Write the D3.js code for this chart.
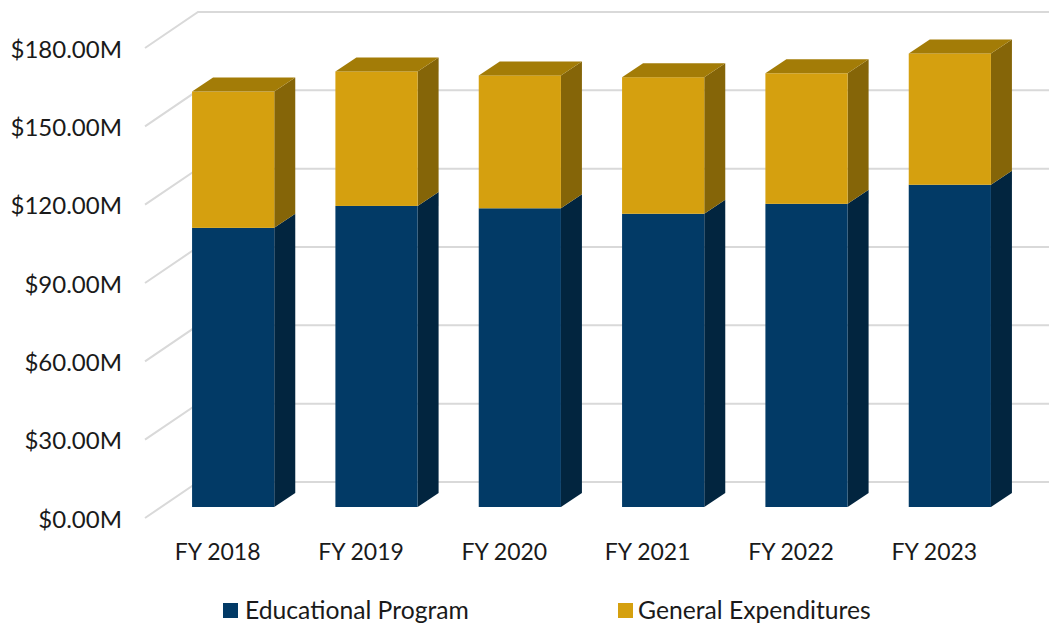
<!DOCTYPE html>
<html><head><meta charset="utf-8">
<script src="https://cdn.jsdelivr.net/npm/d3@7"></script>
<style>html,body{margin:0;background:#fff;overflow:hidden}svg{display:block}
text{font-family:Lato,"Open Sans",sans-serif;fill:#1a1a1a}</style></head><body>
<svg id="c" width="1049" height="624"></svg>
<script>
const categories=["FY 2018","FY 2019","FY 2020","FY 2021","FY 2022","FY 2023"];
const educational=[106.9,115.3,114.4,112.3,116.1,123.4];
const general=[52.2,51.5,50.9,52.3,50.0,50.3];
const yTicks=[0,30,60,90,120,150,180];
const seriesNames=["Educational Program","General Expenditures"];

const svg=d3.select("#c");
const x=d3.scaleBand().domain(categories).range([161.5,1021.5]).paddingInner(0.4266).paddingOuter(0.2133);
const yFront=d3.scaleLinear().domain([0,180]).range([518,48]);
const yBack=d3.scaleLinear().domain([0,180]).range([482,12]);
const yBar=d3.scaleLinear().domain([0,180]).range([507,37]);
const grid=svg.append("g").attr("fill","none").attr("stroke","#d9d9d9").attr("stroke-width",2);
const wallL=198, wallR=1049, floorL=145;
yTicks.forEach(t=>{
  grid.append("path").attr("d",d3.line()([[floorL,yFront(t)],[wallL,yBack(t)],[wallR,yBack(t)]]));
});
// axes
const yAxis=d3.axisLeft(yFront).tickValues(yTicks).tickSize(0).tickPadding(0).tickFormat(d=>"$"+d.toFixed(2)+"M");
const gy=svg.append("g").attr("transform","translate(122,1.5)").call(yAxis);
gy.select(".domain").remove();
gy.selectAll("text").attr("font-size",24).style("font-family","Lato,sans-serif").attr("fill","#1a1a1a");
const xAxis=d3.axisBottom(x).tickSize(0).tickPadding(0);
const gx=svg.append("g").attr("transform","translate(-15.5,544)").call(xAxis);
gx.select(".domain").remove();
gx.selectAll("text").attr("font-size",23).style("font-family","Lato,sans-serif").attr("fill","#1a1a1a");

const dx=21, dy=-14;
const colors=[{front:"#023a66",side:"#02253f",top:"#02304f"},{front:"#d5a00f",side:"#856508",top:"#a37c07"}];
const stacked=categories.map((c,i)=>({c,segs:[[0,educational[i]],[educational[i],educational[i]+general[i]]]}));
const bars=svg.append("g").selectAll("g").data(stacked).join("g");
const poly=d3.line();
bars.each(function(d){
  const g=d3.select(this), x0=x(d.c), x1=x0+x.bandwidth();
  d.segs.forEach((s,k)=>{
    const yb=yBar(s[0]), yt=yBar(s[1]), col=colors[k];
    g.append("path").attr("fill",col.side).attr("d",poly([[x1,yb],[x1+dx,yb+dy],[x1+dx,yt+dy],[x1,yt]])+"Z");
    g.append("rect").attr("x",x0).attr("y",yt).attr("width",x1-x0).attr("height",yb-yt).attr("fill",col.front);
    if(k===1) g.append("path").attr("fill",col.top).attr("d",poly([[x0,yt],[x0+dx,yt+dy],[x1+dx,yt+dy],[x1,yt]])+"Z");
  });
});
// legend
const legendX=[223,618], legendT=[245,638];
seriesNames.forEach((n,i)=>{
  svg.append("rect").attr("x",legendX[i]).attr("y",603).attr("width",15).attr("height",15).attr("fill",colors[i].front);
  svg.append("text").attr("x",legendT[i]).attr("y",619).attr("font-size",24.7).text(n);
});
</script></body></html>
